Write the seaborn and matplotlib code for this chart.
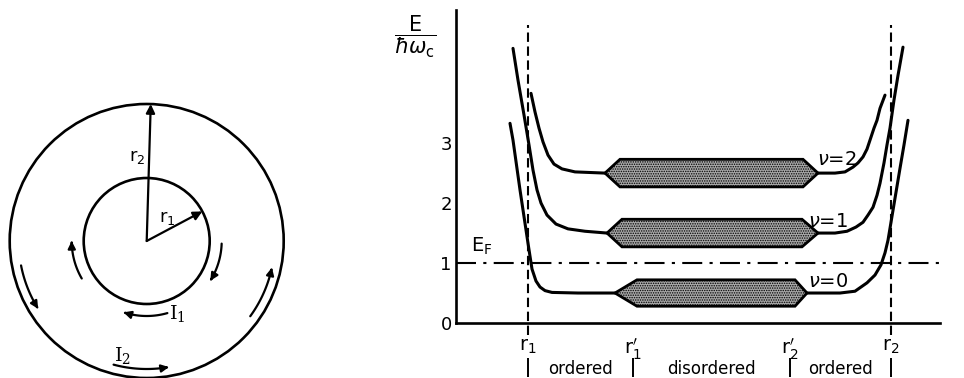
import numpy as np
import matplotlib
matplotlib.use("Agg")
import matplotlib.pyplot as plt
import seaborn as sns
from matplotlib.patches import Circle, FancyArrowPatch
from matplotlib.path import Path

# ---- data (x: position along the radius, arbitrary units; E in units of hbar*omega_c)
r1, r1p, r2p, r2 = 72, 177, 334, 435
x_tick_labels = [r"$\mathrm{r}_1$", r"$\mathrm{r}_1'$", r"$\mathrm{r}_2'$", r"$\mathrm{r}_2$"]
y_ticks = [0, 1, 2, 3]
fermi_level = 1.0

nu0_left_x = [54, 57, 64, 72, 76, 80, 84, 89, 96, 122, 159]
nu0_left_e = [3.33, 3.05, 2.22, 1.33, 0.9, 0.7, 0.6, 0.54, 0.51, 0.5, 0.5]
nu0_right_x = [351, 384, 399, 411, 419, 425, 429, 432, 435, 439, 444, 448, 452]
nu0_right_e = [0.5, 0.5, 0.53, 0.67, 0.8, 0.97, 1.17, 1.38, 1.68, 2.08, 2.58, 2.97, 3.38]

nu1_left_x = [57, 62, 68, 73, 77, 81, 85, 91, 100, 112, 129, 151]
nu1_left_e = [4.58, 4.05, 3.47, 2.97, 2.55, 2.22, 2.0, 1.8, 1.65, 1.57, 1.53, 1.5]
nu1_right_x = [362, 379, 391, 400, 407, 412, 417, 421, 424, 428, 431, 434, 438, 442, 447]
nu1_right_e = [1.5, 1.5, 1.53, 1.6, 1.68, 1.8, 1.93, 2.13, 2.33, 2.67, 2.97, 3.25, 3.72, 4.13, 4.6]

nu2_left_x = [75, 79, 83, 87, 92, 98, 106, 119, 149]
nu2_left_e = [3.83, 3.52, 3.25, 3.02, 2.8, 2.65, 2.57, 2.52, 2.5]
nu2_right_x = [362, 379, 389, 397, 402, 407, 411, 414, 418, 421, 424, 429]
nu2_right_e = [2.5, 2.5, 2.52, 2.6, 2.67, 2.77, 2.9, 3.05, 3.25, 3.38, 3.58, 3.8]

# disordered (localized) bands: tips, corners, centre energy, half height
band_level = [0.5, 1.5, 2.5]
band_tip_l = [159, 151, 149]
band_corner_l = [181, 166, 164]
band_corner_r = [339, 346, 347]
band_tip_r = [351, 362, 362]
band_half = [0.22, 0.23, 0.23]

nu_labels = [r"$\nu$=0", r"$\nu$=1", r"$\nu$=2"]
nu_label_x = [372, 372, 381]
nu_label_e = [0.7, 1.7, 2.73]

regions = ["ordered", "disordered", "ordered"]

# ---- corbino disk sketch (pixel-like units)
r_inner, r_outer = 63, 137
r1_angle = 28
r2_angle = 88.3
i1_radius = 75
i1_arcs = [(210, 180), (-2, -32), (-74, -108)]
i2_radius = 128
i2_arcs = [(191, 212), (-36, -12), (-105, -80)]

sns.set_style("white")
plt.rcParams["font.family"] = ["DejaVu Sans"]
plt.rcParams["mathtext.fontset"] = "dejavusans"
plt.rcParams["hatch.linewidth"] = 0.7
for key in ("text.color", "axes.labelcolor", "xtick.color", "ytick.color", "axes.edgecolor"):
    plt.rcParams[key] = "black"

fig = plt.figure(figsize=(9.64, 3.78), dpi=100)

# left: disk
ax0 = fig.add_axes([0, 0, 300 / 964, 290 / 378])
ax0.set_xlim(-146.7, 153.3)
ax0.set_ylim(-137, 153)
ax0.axis("off")
for rad in (r_inner, r_outer):
    ax0.add_patch(Circle((0, 0), rad, fill=False, lw=1.9, color="k", clip_on=False))

for rad, ang in ((r_inner, r1_angle), (r_outer, r2_angle)):
    t = np.deg2rad(ang)
    ax0.annotate("", xy=(rad * np.cos(t), rad * np.sin(t)), xytext=(0, 0),
                 arrowprops=dict(arrowstyle="-|>", lw=1.6, color="k",
                                 mutation_scale=13, shrinkA=0, shrinkB=0))
ax0.text(-10, 84, r"$\mathrm{r}_2$", fontsize=13, ha="center", va="center")
ax0.text(21, 23, r"$\mathrm{r}_1$", fontsize=13, ha="center", va="center")

for rad, arcs in ((i1_radius, i1_arcs), (i2_radius, i2_arcs)):
    for a0, a1 in arcs:
        t = np.deg2rad(np.linspace(a0, a1, 30))
        pth = Path(np.column_stack([rad * np.cos(t), rad * np.sin(t)]))
        ax0.add_patch(FancyArrowPatch(path=pth, arrowstyle="-|>", lw=1.6, color="k",
                                      mutation_scale=11, clip_on=False))
ax0.text(31, -72, r"$\mathrm{I}_1$", fontsize=14, ha="center", va="center",
         math_fontfamily="dejavuserif")
ax0.text(-24, -115, r"$\mathrm{I}_2$", fontsize=14, ha="center", va="center",
         math_fontfamily="dejavuserif")

# right: energy levels
ax = fig.add_axes([456 / 964, 55 / 378, 484 / 964, 313 / 378])
ax.set_xlim(0, 484)
ax.set_ylim(0, 5.22)
sns.despine(ax=ax)
for s in ("left", "bottom"):
    ax.spines[s].set_linewidth(1.9)

curves = [(nu0_left_x, nu0_left_e), (nu0_right_x, nu0_right_e),
          (nu1_left_x, nu1_left_e), (nu1_right_x, nu1_right_e),
          (nu2_left_x, nu2_left_e), (nu2_right_x, nu2_right_e)]
for xs, es in curves:
    sns.lineplot(x=xs, y=es, ax=ax, color="k", lw=2.2, sort=False,
                 errorbar=None, clip_on=False)

for lev, tl, cl, cr, tr, h in zip(band_level, band_tip_l, band_corner_l,
                                  band_corner_r, band_tip_r, band_half):
    ax.fill([tl, cl, cr, tr, cr, cl], [lev, lev + h, lev + h, lev, lev - h, lev - h],
            facecolor="#a8a8a8", edgecolor="k", lw=2, hatch=".......", zorder=3)

for lab, x, e in zip(nu_labels, nu_label_x, nu_label_e):
    ax.text(x, e, lab, fontsize=14, ha="center", va="center")

ax.hlines(fermi_level, 0, 484, color="k", lw=1.5, ls=(0, (9.6, 3.5, 1.5, 3.5)))
ax.text(26, 1.28, r"$\mathrm{E}_\mathrm{F}$", fontsize=14, ha="center", va="center")

ax.vlines([r1, r2], -0.2, 4.97, color="k", lw=1.5, ls=(0, (4.5, 2.2)), clip_on=False)

ax.set_yticks(y_ticks)
ax.set_xticks([r1, r1p, r2p, r2])
ax.set_xticklabels(x_tick_labels)
ax.tick_params(axis="y", direction="in", length=10, width=1.8, pad=3, labelsize=13)
ax.tick_params(axis="x", direction="in", length=8, width=1.8, pad=10, labelsize=14)

ax.text(-41, 4.77, r"$\dfrac{\mathrm{E}}{\hbar\omega_\mathrm{c}}$", fontsize=15,
        ha="center", va="center")

bars = [r1, r1p, r2p, r2]
ax.vlines(bars, -0.9, -0.58, color="k", lw=1.4, clip_on=False)
for lab, a, b in zip(regions, bars[:-1], bars[1:]):
    ax.text((a + b) / 2, -0.76, lab, fontsize=12, ha="center", va="center")

fig.savefig("out.png", dpi=100)
